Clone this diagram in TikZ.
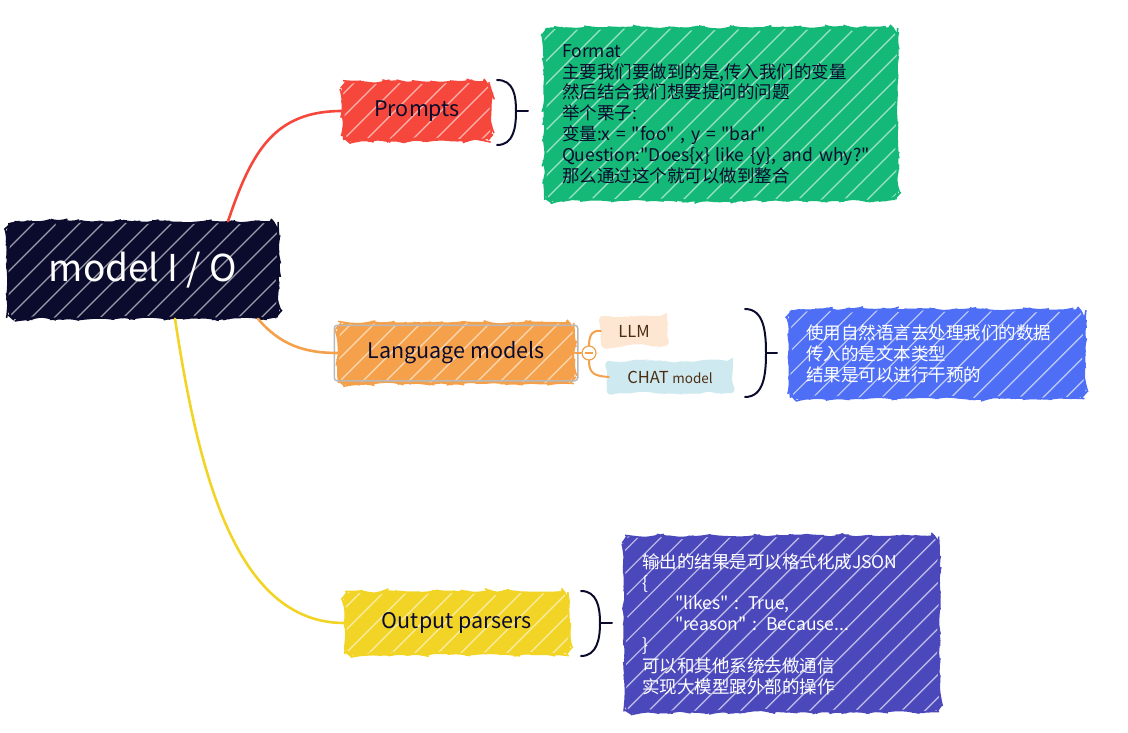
\documentclass[tikz,border=0pt]{standalone}
\usepackage{fontspec}
\setmainfont{Noto Sans CJK SC}[Ligatures=TeXOff]
\usetikzlibrary{decorations.pathmorphing,calc}
\definecolor{cdark}{HTML}{0B0B2E}
\definecolor{cred}{HTML}{F5473B}
\definecolor{corange}{HTML}{F5A14B}
\definecolor{cyellow}{HTML}{F2D426}
\definecolor{cgreen}{HTML}{14B978}
\definecolor{cblue}{HTML}{4D6EF5}
\definecolor{cpurple}{HTML}{4B48BB}
\definecolor{cpeach}{HTML}{FDE6D2}
\definecolor{clblue}{HTML}{CFE9F1}
\definecolor{cbrown}{HTML}{4A2E12}
\tikzset{
  hatch/.style={path picture={
    \foreach \i in {-14,...,20}{
      \draw[white,line width=1.4pt,opacity=0.6]
        ([xshift=\i*23pt]path picture bounding box.south west) -- ++(260pt,260pt);}}},
  sketchbox/.style={fill=#1,draw=#1,line width=1.5pt,rounded corners=9pt,inner sep=0pt,
    hatch,decorate,decoration={random steps,segment length=6pt,amplitude=1.4pt}},
  topic/.style={sketchbox=#1,font=\fontsize{21.5}{24}\selectfont,text=cdark},
  note/.style={sketchbox=#1,font=\fontsize{17.5}{20.8}\selectfont,align=left},
  conn/.style={line width=2.6pt,#1,line cap=round},
  brace/.style={draw=cdark,line width=2pt,line cap=round},
  blob/.style={fill=#1,rounded corners=6pt,inner sep=0pt,text=cbrown,
    decorate,decoration={random steps,segment length=7pt,amplitude=2pt}},
}
\begin{document}
\begin{tikzpicture}[x=1pt,y=-1pt]
\pgfmathsetseed{7}
\useasboundingbox (0,0) rectangle (1128,733);

% root
\node[sketchbox=cdark,minimum width=270pt,minimum height=96pt,text=white,
      font=\fontsize{37}{40}\selectfont] (io) at (143,270) {model I / O};

% topics
\node[topic=cred,minimum width=148pt,minimum height=58pt] (prompts) at (417,111) {Prompts};
\node[topic=corange,minimum width=236pt,minimum height=60pt] (lm) at (456,353) {Language models};
\node[topic=cyellow,minimum width=224pt,minimum height=62pt] (op) at (457,623) {Output parsers};

% selection frame
\draw[gray!55,line width=1.5pt,rounded corners=3pt] ($(lm.south west)+(-3,-3)$) rectangle ($(lm.north east)+(3,3)$);

% notes
\node[note=cgreen,minimum width=352pt,minimum height=172pt,text width=318pt,text=cdark] (pnote) at (721,114)
{Format\\
主要我们要做到的是,传入我们的变量\\
然后结合我们想要提问的问题\\
举个栗子:\\
变量:x = "foo" , y = "bar"\\
Question:"Does\{x\} like \{y\}, and why?"\\
那么通过这个就可以做到整合};

\node[note=cblue,minimum width=295pt,minimum height=88pt,text width=262pt,text=white] (lnote) at (937,354)
{使用自然语言去处理我们的数据\\
传入的是文本类型\\
结果是可以进行干预的};

\node[note=cpurple,minimum width=314pt,minimum height=175pt,text width=280pt,text=white] (onote) at (782,624)
{输出的结果是可以格式化成JSON\\
\{\\
\hspace*{33pt}"likes" : True,\\
\hspace*{33pt}"reason" : Because...\\
\}\\
可以和其他系统去做通信\\
实现大模型跟外部的操作};

% connectors from root
\draw[conn=cred] ([xshift=85pt]io.north) .. controls (252,150) and (275,111) .. (prompts.west);
\draw[conn=corange] ([xshift=115pt]io.south) .. controls (280,345) and (305,353) .. (lm.west);
\draw[conn=cyellow] ([xshift=32pt]io.south) .. controls (198,470) and (235,623) .. (op.west);

% collapse circle and sub topics
\node[blob=cpeach,minimum width=66pt,minimum height=30pt,font=\fontsize{16.5}{18}\selectfont] (llm) at (634,331) {LLM};
\node[blob=clblue,minimum width=126pt,minimum height=32pt] (chat) at (670,377)
  {\fontsize{16.5}{18}\selectfont CHAT \fontsize{13.5}{15}\selectfont model};
\node[circle,draw=corange,fill=white,line width=1.2pt,minimum size=14pt,inner sep=0pt] (tog) at (589,353) {};
\draw[corange,line width=1.2pt] ($(tog.center)+(-4,0)$) -- ($(tog.center)+(4,0)$);
\draw[conn=corange,line width=2pt] (lm.east) -- (tog.west);
\draw[conn=corange,line width=2pt] (tog.north) .. controls (589,332) and (595,330) .. (llm.west);
\draw[conn=corange,line width=2pt] (tog.south) .. controls (589,374) and (595,376) .. ([xshift=2pt]chat.west);

% braces
\draw[brace] (497,80) .. controls (514,80) and (516,96) .. (516,111) .. controls (516,127) and (514,145) .. (497,145);
\draw[brace] (516,111) -- (528,111);
\draw[brace] (745,309) .. controls (764,309) and (766,332) .. (766,353) .. controls (766,374) and (764,397) .. (745,397);
\draw[brace] (766,353) -- (777,353);
\draw[brace] (581,591) .. controls (597,591) and (600,607) .. (600,623) .. controls (600,639) and (597,656) .. (581,656);
\draw[brace] (600,623) -- (612,623);
\end{tikzpicture}
\end{document}
